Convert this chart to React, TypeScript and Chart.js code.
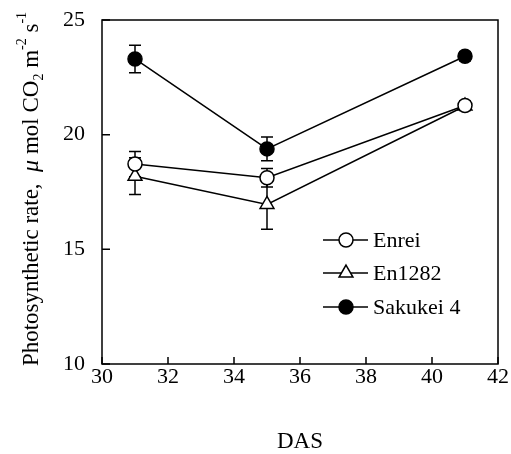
import React, { useEffect, useRef } from "react";
import { Chart, registerables } from "chart.js";

Chart.register(...registerables);

const das = [31, 35, 41];
const enrei = [18.72, 18.12, 21.27];
const enreiErr = [0.55, 0.4, 0.2];
const en1282 = [18.19, 16.96, 21.25];
const en1282Err = [0.8, 1.08, 0.2];
const sakukei = [23.3, 19.38, 23.42];
const sakukeiErr = [0.6, 0.52, 0.2];
const seriesLabels = ["Enrei", "En1282", "Sakukei 4"];
const xTicks = [30, 32, 34, 36, 38, 40, 42];
const yTicks = [10, 15, 20, 25];

const FONT = "'Liberation Serif', 'Times New Roman', serif";

const errorsPlugin = {
  id: "errorBars",
  beforeDatasetsDraw(chart: any) {
    const ctx = chart.ctx;
    const xs = chart.scales.x;
    const ys = chart.scales.y;
    ctx.save();
    ctx.strokeStyle = "#000";
    ctx.lineWidth = 1.5;
    chart.data.datasets.forEach((ds: any) => {
      ds.data.forEach((p: any, i: number) => {
        const e = ds.errors[i];
        const px = xs.getPixelForValue(p.x);
        const top = ys.getPixelForValue(p.y + e);
        const bot = ys.getPixelForValue(p.y - e);
        ctx.beginPath();
        ctx.moveTo(px, top);
        ctx.lineTo(px, bot);
        ctx.moveTo(px - 6, top);
        ctx.lineTo(px + 6, top);
        ctx.moveTo(px - 6, bot);
        ctx.lineTo(px + 6, bot);
        ctx.stroke();
      });
    });
    ctx.restore();
  },
};

function drawMarker(ctx: any, style: string, x: number, y: number, r: number, fill: string) {
  ctx.beginPath();
  if (style === "triangle") {
    let rad = 0;
    ctx.moveTo(x + Math.sin(rad) * r, y - Math.cos(rad) * r);
    rad += (2 * Math.PI) / 3;
    ctx.lineTo(x + Math.sin(rad) * r, y - Math.cos(rad) * r);
    rad += (2 * Math.PI) / 3;
    ctx.lineTo(x + Math.sin(rad) * r, y - Math.cos(rad) * r);
    ctx.closePath();
  } else {
    ctx.arc(x, y, r, 0, Math.PI * 2);
  }
  ctx.fillStyle = fill;
  ctx.fill();
  ctx.stroke();
}

const framePlugin = {
  id: "frame",
  afterDraw(chart: any) {
    const ctx = chart.ctx;
    const a = chart.chartArea;
    const xs = chart.scales.x;
    const ys = chart.scales.y;
    ctx.save();
    ctx.strokeStyle = "#000";
    ctx.lineWidth = 1.5;
    ctx.strokeRect(a.left, a.top, a.right - a.left, a.bottom - a.top);
    ctx.beginPath();
    xTicks.forEach((t) => {
      const px = xs.getPixelForValue(t);
      ctx.moveTo(px, a.bottom);
      ctx.lineTo(px, a.bottom - 7);
    });
    yTicks.forEach((t) => {
      const py = ys.getPixelForValue(t);
      ctx.moveTo(a.left, py);
      ctx.lineTo(a.left + 8, py);
    });
    ctx.stroke();

    // legend
    const rowsY = [240, 273, 307];
    chart.data.datasets.forEach((ds: any, i: number) => {
      const y = rowsY[i];
      ctx.lineWidth = 1.5;
      ctx.strokeStyle = "#000";
      ctx.beginPath();
      ctx.moveTo(323, y);
      ctx.lineTo(368, y);
      ctx.stroke();
      drawMarker(ctx, ds.pointStyle, 346, y, ds.pointRadius, ds.pointBackgroundColor);
      ctx.fillStyle = "#000";
      ctx.font = `22px ${FONT}`;
      ctx.textBaseline = "middle";
      ctx.textAlign = "left";
      ctx.fillText(ds.label, 373, y + 1);
    });

    // x title
    ctx.font = `23px ${FONT}`;
    ctx.textAlign = "center";
    ctx.textBaseline = "middle";
    ctx.fillStyle = "#000";
    ctx.fillText("DAS", (a.left + a.right) / 2, 442);

    // y title (rich text)
    const parts: [string, string, number][] = [
      ["Photosynthetic rate,  ", `23px ${FONT}`, 0],
      ["\u03bc", `italic 24px ${FONT}`, 0],
      [" mol CO", `23px ${FONT}`, 0],
      ["2", `14px ${FONT}`, 5],
      [" m", `23px ${FONT}`, 0],
      ["-2", `14px ${FONT}`, -12],
      [" s", `23px ${FONT}`, 0],
      ["-1", `14px ${FONT}`, -12],
    ];
    let total = 0;
    parts.forEach(([t, f]) => {
      ctx.font = f;
      total += ctx.measureText(t).width;
    });
    ctx.translate(38, 189);
    ctx.rotate(-Math.PI / 2);
    ctx.textAlign = "left";
    ctx.textBaseline = "alphabetic";
    let cx = -total / 2;
    parts.forEach(([t, f, dy]) => {
      ctx.font = f;
      ctx.fillText(t, cx, dy);
      cx += ctx.measureText(t).width;
    });
    ctx.restore();
  },
};

export default function App() {
  const ref = useRef<HTMLCanvasElement | null>(null);
  useEffect(() => {
    if (!ref.current) return;
    const mk = (vals: number[]) => das.map((x, i) => ({ x, y: vals[i] }));
    const base = {
      borderColor: "#000",
      borderWidth: 1.5,
      pointBorderColor: "#000",
      pointBorderWidth: 1.5,
      showLine: true,
      tension: 0,
    };
    const chart = new Chart(ref.current, {
      type: "scatter",
      data: {
        datasets: [
          { ...base, label: seriesLabels[0], data: mk(enrei), errors: enreiErr, pointStyle: "circle", pointRadius: 7, pointBackgroundColor: "#fff" } as any,
          { ...base, label: seriesLabels[1], data: mk(en1282), errors: en1282Err, pointStyle: "triangle", pointRadius: 8, pointBackgroundColor: "#fff" } as any,
          { ...base, label: seriesLabels[2], data: mk(sakukei), errors: sakukeiErr, pointStyle: "circle", pointRadius: 7, pointBackgroundColor: "#000" } as any,
        ],
      },
      options: {
        animation: false,
        responsive: true,
        maintainAspectRatio: false,
        layout: { padding: { top: 20, right: 13, left: 0, bottom: 0 } },
        plugins: { legend: { display: false }, tooltip: { enabled: false } },
        scales: {
          x: {
            type: "linear",
            min: 30,
            max: 42,
            grid: { display: false, drawTicks: false },
            border: { display: false },
            ticks: { stepSize: 2, color: "#000", font: { family: FONT, size: 22 }, padding: 0, maxRotation: 0 },
            afterFit: (s: any) => { s.height = 90; s.paddingLeft = 0; s.paddingRight = 0; },
          },
          y: {
            min: 10,
            max: 25,
            grid: { display: false, drawTicks: false },
            border: { display: false },
            ticks: { stepSize: 5, color: "#000", font: { family: FONT, size: 22 }, padding: 17 },
            afterFit: (s: any) => { s.width = 102; s.paddingTop = 0; s.paddingBottom = 0; },
          },
        },
      } as any,
      plugins: [errorsPlugin, framePlugin],
    });
    return () => chart.destroy();
  }, []);
  return (
    <div style={{ position: "absolute", left: 0, top: 0, width: 511, height: 454, background: "#fff" }}>
      <canvas ref={ref} />
    </div>
  );
}
